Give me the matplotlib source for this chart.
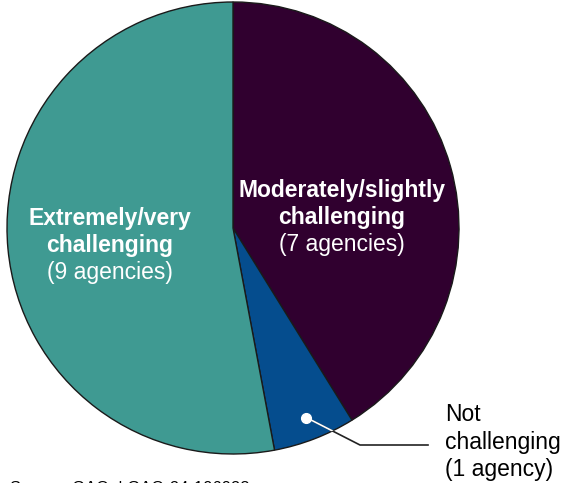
import matplotlib
matplotlib.use("Agg")
import matplotlib.pyplot as plt
import numpy as np

categories = ["Moderately/slightly\nchallenging", "Not\nchallenging", "Extremely/very\nchallenging"]
agencies = [7, 1, 9]
count_labels = ["(7 agencies)", "(1 agency)", "(9 agencies)"]
colors = ["#30002F", "#054D8E", "#3F9A92"]
source = "Source: GAO. | GAO-24-106028"

plt.rcParams["font.family"] = ["Liberation Sans", "DejaVu Sans"]

W, H = 563, 483
CX, CY, R = 233, 228, 226  # pie centre and radius in pixels

fig = plt.figure(figsize=(W / 100, H / 100), dpi=100)
ax = fig.add_axes([0, 0, 1, 1])


def px(x, y):
    return (x - CX) / R, (CY - y) / R


wedges, _ = ax.pie(agencies, colors=colors, startangle=90, counterclock=False,
                   radius=1, center=(0, 0), frame=True,
                   wedgeprops=dict(edgecolor="#1a1a1a", linewidth=1.0))
ax.set_xlim(-CX / R, (W - CX) / R)
ax.set_ylim(-(H - CY) / R, CY / R)
ax.set_aspect("auto")
ax.axis("off")

# In-slice labels
for (tx, ty), cat, cnt in [((342, 204), categories[0], count_labels[0]),
                           ((110, 232), categories[2], count_labels[2])]:
    x, y = px(tx, ty)
    ax.text(x, y, cat, ha="center", va="center", color="white",
            fontsize=16.5, fontweight="bold", linespacing=1.2)
    x2, y2 = px(tx, ty + 41)
    ax.text(x2, y2, cnt, ha="center", va="center", color="white", fontsize=16.5)

# Leader for the small slice
w = wedges[1]
mid = np.deg2rad((w.theta1 + w.theta2) / 2)
dot = (0.9 * np.cos(mid), 0.9 * np.sin(mid))
elbow = px(360, 445)
end = px(428, 445)
xs = [dot[0], elbow[0], end[0]]
ys = [dot[1], elbow[1], end[1]]
ax.plot(xs, ys, color="#222222", lw=1.2, zorder=3)
inner, = ax.plot(xs, ys, color="white", lw=1.2, zorder=4)
inner.set_clip_path(w)
ax.plot(*dot, "o", color="white", ms=7, zorder=5)

lx, ly = px(445, 442)
ax.text(lx, ly, categories[1] + "\n" + count_labels[1], ha="left", va="center",
        color="black", fontsize=16.5, linespacing=1.25)

sx, sy = px(10, 481)
ax.text(sx, sy, source, ha="left", va="top", fontsize=12, color="black")

fig.savefig("out.png", dpi=100)
